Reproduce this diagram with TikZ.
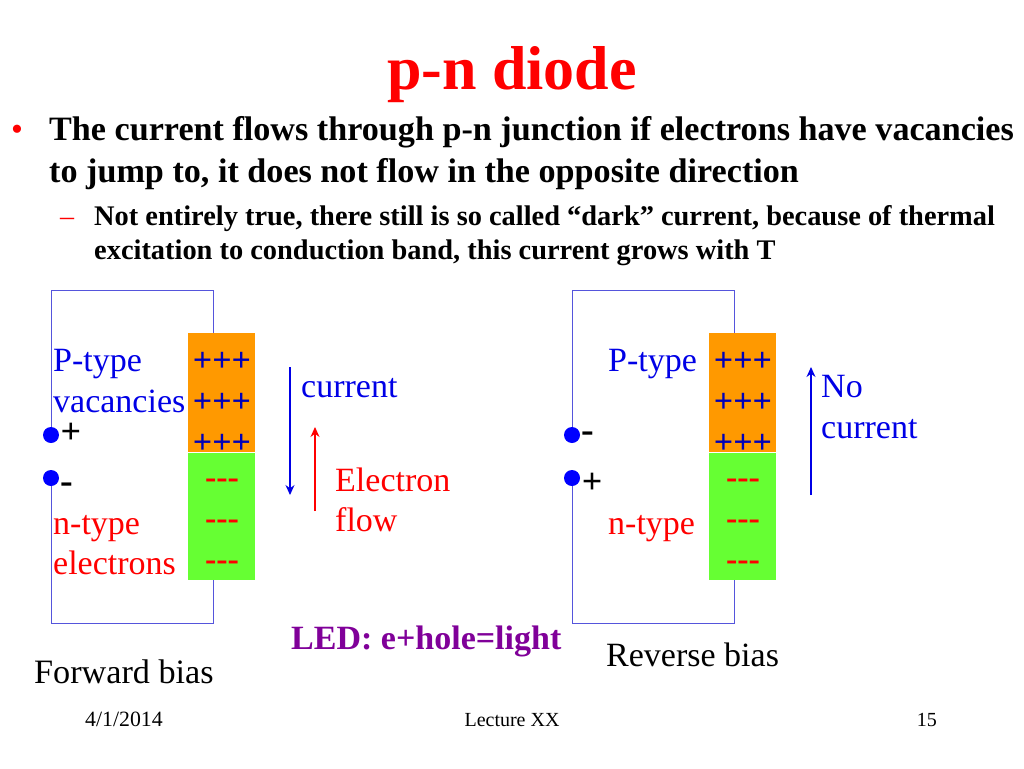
\documentclass[tikz,border=0pt]{standalone}
\usepackage{fontspec}
\setmainfont{Liberation Serif}
\usetikzlibrary{arrows.meta}
\definecolor{cblue}{RGB}{0,0,230}
\definecolor{cdot}{RGB}{0,0,255}
\definecolor{cred}{RGB}{255,0,0}
\definecolor{cpurple}{RGB}{128,0,153}
\definecolor{cwire}{RGB}{85,85,220}
\definecolor{corange}{RGB}{255,153,0}
\definecolor{cgreen}{RGB}{102,255,51}
\newcommand{\mydashes}{{-}{-}{-}}
\tikzset{
 x=1pt,y=-1pt,
 txt/.style={inner sep=0pt,anchor=base west,font=\fontsize{#1}{#1}\selectfont},
 boldtxt/.style={inner sep=0pt,anchor=base west,font=\fontsize{#1}{#1}\selectfont\bfseries},
 wire/.style={draw=cwire,line width=1pt},
 dot/.style={circle,fill=cdot,inner sep=0pt,minimum size=16pt},
 plus/.style={inner sep=0pt,anchor=base,text=cblue!80!black,font=\fontsize{34}{34}\selectfont\bfseries},
 minus/.style={inner sep=0pt,anchor=base,text=cred,font=\fontsize{34}{34}\selectfont\bfseries},
 flow/.style={line width=1.1pt,-{Stealth[length=10pt,width=9pt]}},
}
\begin{document}
\begin{tikzpicture}
\useasboundingbox (0,0) rectangle (1024,768);
\node[boldtxt=62,text=cred,anchor=base] (title) at (512,89) {p-n diode};
\node[txt=34,text=cred] (b1) at (11,140) {•};
\node[boldtxt=34.15] (l1) at (49,140) {The current flows through p-n junction if electrons have vacancies};
\node[boldtxt=34.15] (l2) at (49,182) {to jump to, it does not flow in the opposite direction};
\node[txt=28,text=cred] (b2) at (60,225) {–};
\node[boldtxt=28.4] (l3) at (94,225) {Not entirely true, there still is so called “dark” current, because of thermal};
\node[boldtxt=28.4] (l4) at (94,259) {excitation to conduction band, this current grows with T};
% left
\node[fill=corange,minimum width=67pt,minimum height=119pt,inner sep=0pt,anchor=north west] (pl) at (188,333) {};
\node[fill=cgreen,minimum width=67pt,minimum height=127pt,inner sep=0pt,anchor=north west] (nl) at (188,453) {};
\node[dot] (dl1) at (51,435) {};
\node[dot] (dl2) at (51,478) {};
\draw[wire] (dl1.north) -- (51,290) -- (213,290) -- (213,333);
\draw[wire] (dl2.south) -- (51,623) -- (213,623) -- (213,580);
\foreach \y/\n in {371/a,412/b,453/c}{\node[plus] (pl\n) at (222,\y) {+++};}
\foreach \y/\n in {488/a,529/b,570/c}{\node[minus] (ml\n) at (222,\y) {\mydashes};}
\node[txt=34,text=cblue] (tp) at (53,371) {P-type};
\node[txt=34,text=cblue] (tv) at (53,412) {vacancies};
\node[txt=34,text=cred] (tn) at (53,534) {n-type};
\node[txt=34,text=cred] (te) at (53,574) {electrons};
\node[boldtxt=36,anchor=base] (pls) at (71,443) {+};
\node[boldtxt=38,anchor=base] (mns) at (67,493) {-};
\coordinate (c1) at (290,367); \coordinate (c2) at (290,495);
\draw[flow,cblue] (c1) -- (c2);
\coordinate (e1) at (315,511); \coordinate (e2) at (315,427);
\draw[flow,cred] (e1) -- (e2);
\node[txt=34,text=cblue] (cur) at (301,397) {current};
\node[txt=34,text=cred] (el) at (335,491) {Electron};
\node[txt=34,text=cred] (fl) at (335,531) {flow};
\node[txt=34.2] (fb) at (34,683) {Forward bias};
% right
\node[fill=corange,minimum width=67pt,minimum height=119pt,inner sep=0pt,anchor=north west] (pr) at (709,333) {};
\node[fill=cgreen,minimum width=67pt,minimum height=127pt,inner sep=0pt,anchor=north west] (nr) at (709,453) {};
\node[dot] (dr1) at (572,435) {};
\node[dot] (dr2) at (572,478) {};
\draw[wire] (dr1.north) -- (572,290) -- (734,290) -- (734,333);
\draw[wire] (dr2.south) -- (572,623) -- (734,623) -- (734,580);
\foreach \y/\n in {371/a,412/b,453/c}{\node[plus] (pr\n) at (743,\y) {+++};}
\foreach \y/\n in {488/a,529/b,570/c}{\node[minus] (mr\n) at (743,\y) {\mydashes};}
\node[txt=34,text=cblue] (rp) at (608,371) {P-type};
\node[txt=34,text=cred] (rn) at (608,534) {n-type};
\node[boldtxt=38,anchor=base] (rm) at (588,442) {-};
\node[boldtxt=36,anchor=base] (rpl) at (592,493) {+};
\coordinate (n1) at (811,495); \coordinate (n2) at (811,367);
\draw[flow,cblue] (n1) -- (n2);
\node[txt=34,text=cblue] (no) at (821,397) {No};
\node[txt=34,text=cblue] (nc) at (821,438) {current};
\node[txt=34] (rb) at (606,666) {Reverse bias};
\node[boldtxt=34,text=cpurple] (led) at (291,649) {LED: e+hole=light};
\node[txt=21.8] (date) at (85,726) {4/1/2014};
\node[txt=20,anchor=base] (lec) at (512,726) {Lecture XX};
\node[txt=20,anchor=base east] (pg) at (937,726) {15};
\end{tikzpicture}
\end{document}
